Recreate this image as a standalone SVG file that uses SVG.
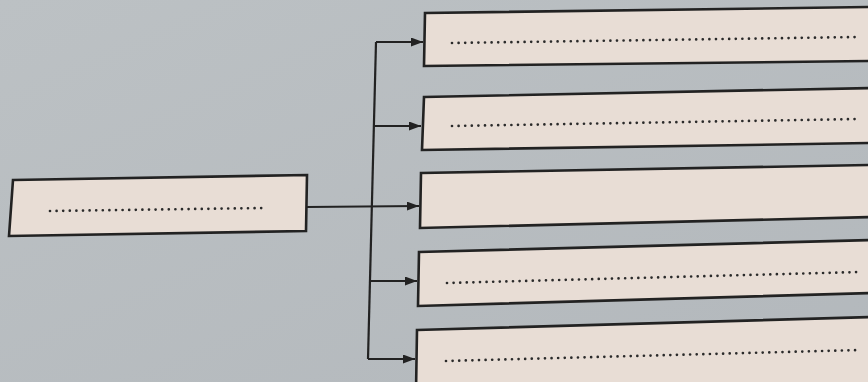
<svg xmlns="http://www.w3.org/2000/svg" width="868" height="382" viewBox="0 0 868 382">
<defs>
<style>
.box{fill:#e8ddd5;stroke:#222;stroke-width:2.6;stroke-linejoin:miter}
.dots{fill:none;stroke:#2a2a2a;stroke-width:2.7;stroke-linecap:round;stroke-dasharray:0 6.6}
.conn{fill:none;stroke:#222;stroke-width:2.2}
</style>
<marker id="arr" viewBox="0 0 12 9" refX="12" refY="4.5" markerWidth="12" markerHeight="9" markerUnits="userSpaceOnUse" orient="auto">
<path d="M0,0 L12,4.5 L0,9 Z" fill="#222"/>
</marker>
<linearGradient id="bg" x1="0" y1="0" x2="1" y2="1">
<stop offset="0" stop-color="#bcc1c4"/>
<stop offset="1" stop-color="#b3b8bc"/>
</linearGradient>
</defs>
<rect width="868" height="382" fill="url(#bg)"/>
<g id="connectors">
<path class="conn" d="M307,207 L419,206" marker-end="url(#arr)"/>
<path class="conn" d="M376,42 L368,359"/>
<path class="conn" d="M376,42 L423,42" marker-end="url(#arr)"/>
<path class="conn" d="M374,126 L421,126" marker-end="url(#arr)"/>
<path class="conn" d="M370,281 L417,281" marker-end="url(#arr)"/>
<path class="conn" d="M368,359 L415,359" marker-end="url(#arr)"/>
</g>
<g id="node-left">
<polygon class="box" points="13,180 307,175 306,231 9,236"/>
<path class="dots" d="M50,211 L265,208"/>
</g>
<g id="node-1">
<polygon class="box" points="425,13 872,7 872,61 424,66"/>
<path class="dots" d="M452,43 L860,37"/>
</g>
<g id="node-2">
<polygon class="box" points="424,97 872,88 872,143 422,150"/>
<path class="dots" d="M452,126 L860,119"/>
</g>
<g id="node-3">
<polygon class="box" points="421,173 872,165 872,217 420,228"/>
</g>
<g id="node-4">
<polygon class="box" points="419,252 872,240 872,293 418,306"/>
<path class="dots" d="M447,283 L860,272"/>
</g>
<g id="node-5">
<polygon class="box" points="417,330 872,317 872,392 416,392"/>
<path class="dots" d="M446,361 L860,350"/>
</g>
</svg>
